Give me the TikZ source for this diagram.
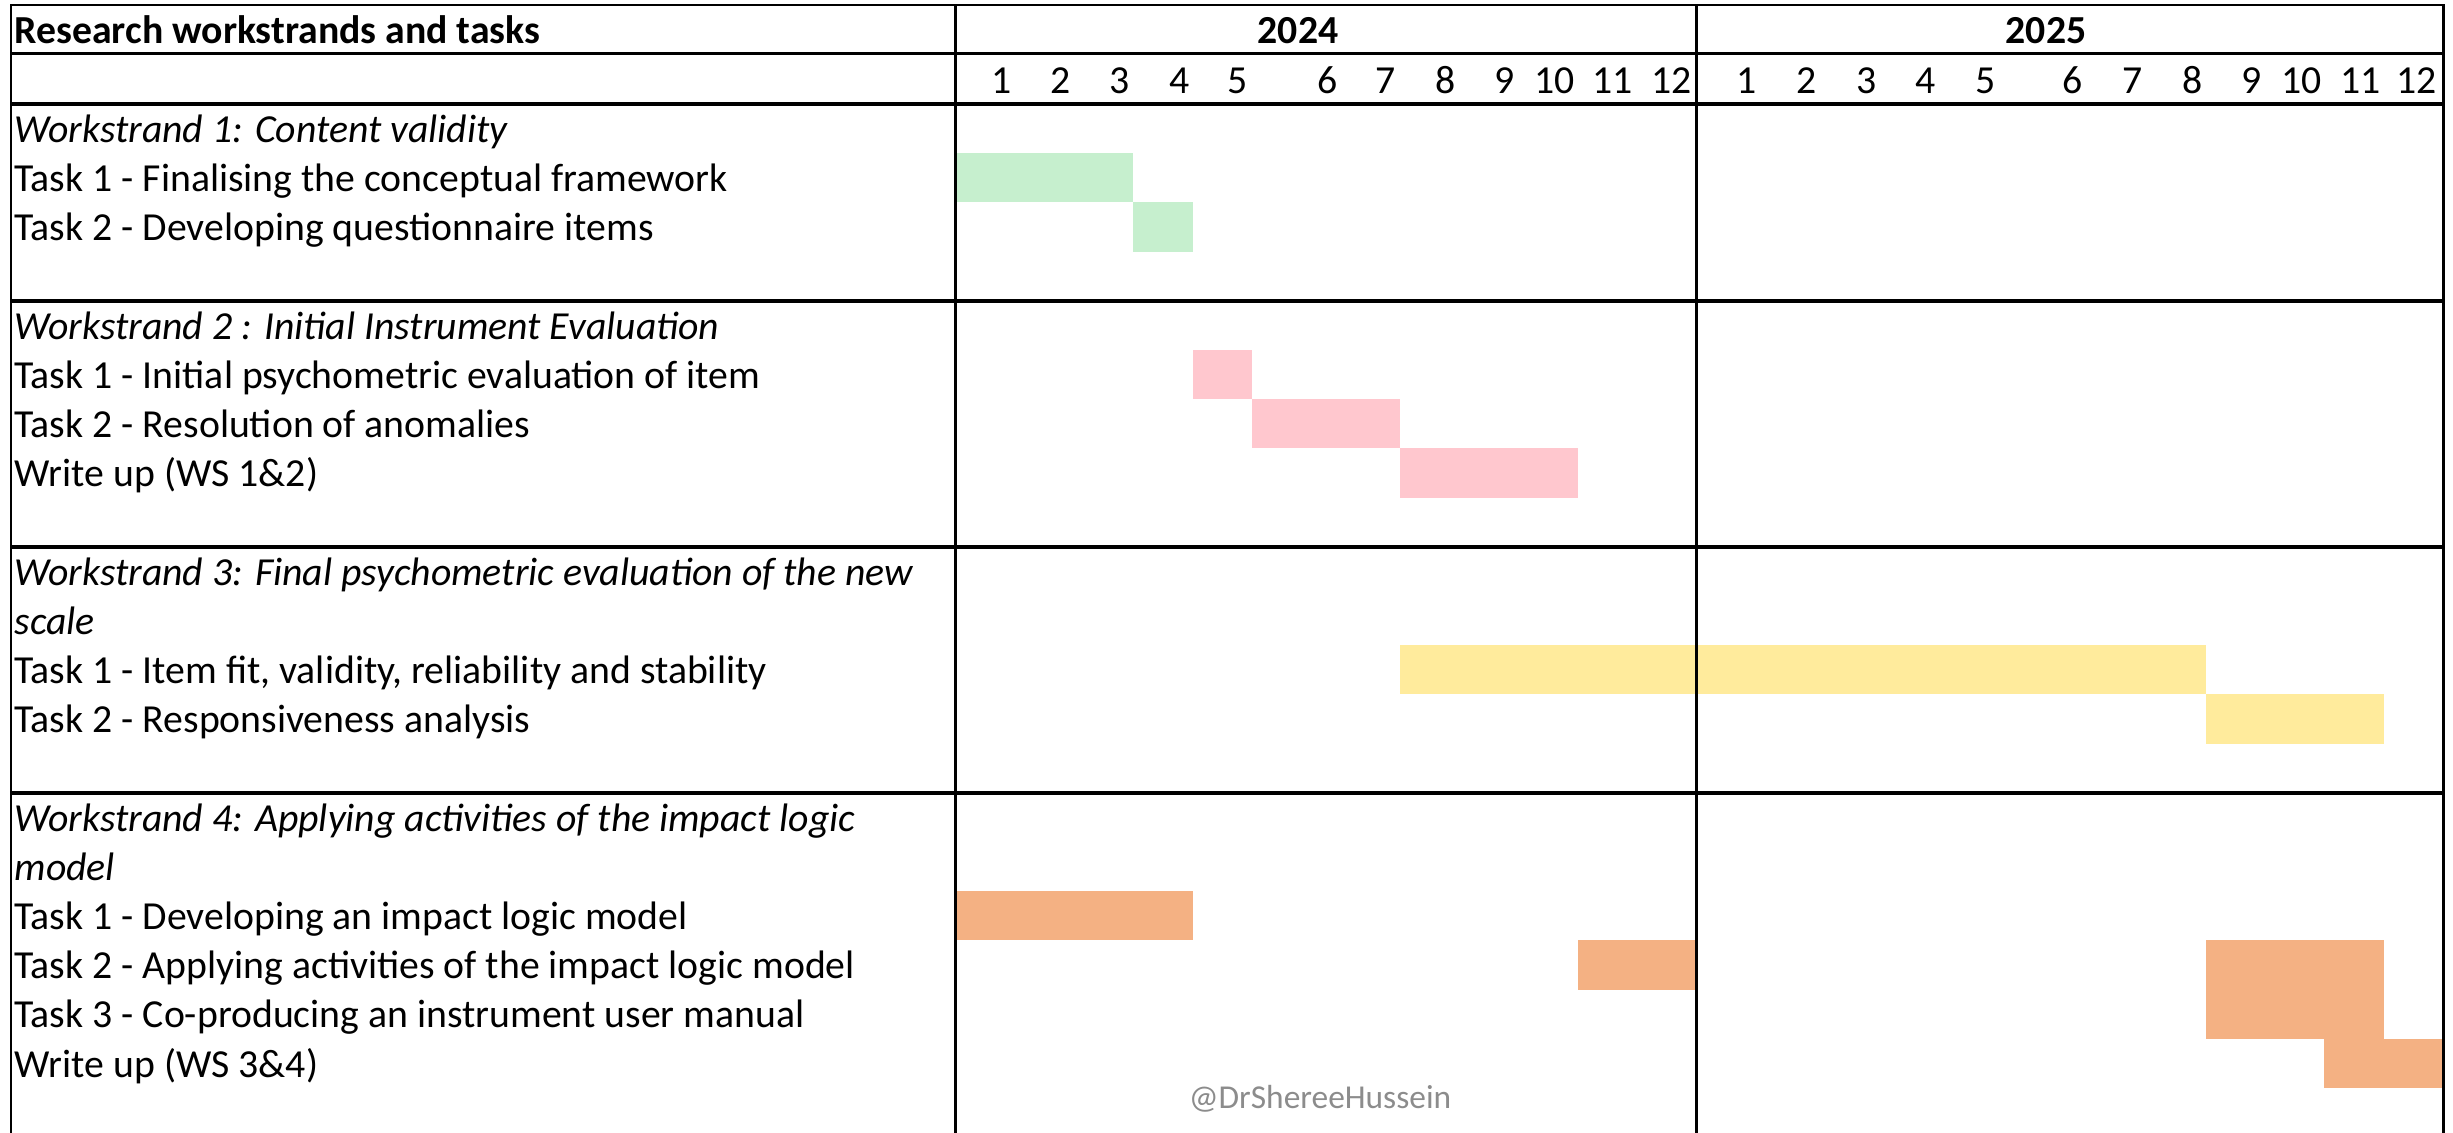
\documentclass[tikz,border=0pt]{standalone}
\usepackage{fontspec}
\setmainfont{Carlito}
\usetikzlibrary{positioning}
\definecolor{taskgreen}{HTML}{C6EFCE}
\definecolor{taskpink}{HTML}{FFC7CE}
\definecolor{taskyellow}{HTML}{FFEB9C}
\definecolor{taskorange}{HTML}{F4B183}
\definecolor{ink}{HTML}{000000}
\definecolor{markgray}{HTML}{8C8C8C}

\begin{document}
\begin{tikzpicture}[
  x=0.01cm, y=-0.01cm,
  font=\fontsize{11.3}{13.95}\selectfont,
  cell/.style={anchor=base west, inner sep=0pt, text=ink},
  wstitle/.style={cell, font=\fontsize{11.3}{13.95}\selectfont\itshape},
  head/.style={anchor=base, inner sep=0pt, text=ink,
    font=\fontsize{11.3}{13.95}\selectfont\bfseries},
  month/.style={anchor=base east, inner sep=0pt, text=ink},
  gridline/.style={draw=ink, line width=0.85pt},
  sepline/.style={draw=ink, line width=1.15pt}
]
\useasboundingbox (0,0) rectangle (2453,1133);

% task bars
\fill[taskgreen] (955,153.2) rectangle (1133,202.4);
\fill[taskgreen] (1133,202.4) rectangle (1193,251.6);
\fill[taskpink] (1193,350) rectangle (1252,399.2);
\fill[taskpink] (1252,399.2) rectangle (1400,448.4);
\fill[taskpink] (1400,448.4) rectangle (1578,497.6);
\fill[taskyellow] (1400,645.2) rectangle (2206,694.4);
\fill[taskyellow] (2206,694.4) rectangle (2384,743.6);
\fill[taskorange] (955,891.2) rectangle (1193,940.4);
\fill[taskorange] (1578,940.4) rectangle (1696,989.6);
\fill[taskorange] (2206,940.4) rectangle (2384,1038.8);
\fill[taskorange] (2324,1038.8) rectangle (2443,1088);

% table rules
\draw[gridline] (11,1140) -- (11,5) -- (2443,5) -- (2443,1140);
\draw[gridline] (955,5) -- (955,1140);
\draw[gridline] (1696,5) -- (1696,1140);
\draw[gridline] (11,53.5) -- (2443,53.5);
\draw[sepline] (11,104) -- (2443,104);
\draw[sepline] (11,300.8) -- (2443,300.8);
\draw[sepline] (11,546.8) -- (2443,546.8);
\draw[sepline] (11,792.8) -- (2443,792.8);

\node[cell, font=\fontsize{11.3}{13.95}\selectfont\bfseries] (heading) at (14,43)
  {Research workstrands and tasks};
\node[head] (y2024) at (1298,43) {2024};
\node[head] (y2025) at (2046,43) {2025};

\foreach \e [count=\m] in {1012,1071,1130,1190,1248,1338,1396,1456,1515,1575,1633,1692}
  \node[month] (a\m) at (\e,93) {\m};
\foreach \e [count=\m] in {1757,1817,1877,1936,1996,2083,2143,2203,2262,2322,2381,2437}
  \node[month] (b\m) at (\e,93) {\m};

\node[wstitle] (ws1) at (14,142.2) {Workstrand 1: Content validity};
\node[cell] (ws1t1) at (14,191.4) {Task 1 - Finalising the conceptual framework};
\node[cell] (ws1t2) at (14,240.6) {Task 2 - Developing questionnaire items};

\node[wstitle] (ws2) at (14,339) {Workstrand 2 : Initial Instrument Evaluation};
\node[cell] (ws2t1) at (14,388.2) {Task 1 - Initial psychometric evaluation of item};
\node[cell] (ws2t2) at (14,437.4) {Task 2 - Resolution of anomalies};
\node[cell] (ws2wu) at (14,486.6) {Write up (WS 1\&2)};

\node[wstitle] (ws3) at (14,585) {Workstrand 3: Final psychometric evaluation of the new};
\node[wstitle] (ws3b) at (14,634.2) {scale};
\node[cell] (ws3t1) at (14,683.4) {Task 1 - Item fit, validity, reliability and stability};
\node[cell] (ws3t2) at (14,732.6) {Task 2 - Responsiveness analysis};

\node[wstitle] (ws4) at (14,831) {Workstrand 4: Applying activities of the impact logic};
\node[wstitle] (ws4b) at (14,880.2) {model};
\node[cell] (ws4t1) at (14,929.4) {Task 1 - Developing an impact logic model};
\node[cell] (ws4t2) at (14,978.6) {Task 2 - Applying activities of the impact logic model};
\node[cell] (ws4t3) at (14,1027.8) {Task 3 - Co-producing an instrument user manual};
\node[cell] (ws4wu) at (14,1077) {Write up (WS 3\&4)};

\node[anchor=base, inner sep=0pt, text=markgray,
  font=\fontsize{9.5}{11}\selectfont] (mark) at (1320,1108) {@DrShereeHussein};

\end{tikzpicture}
\end{document}
